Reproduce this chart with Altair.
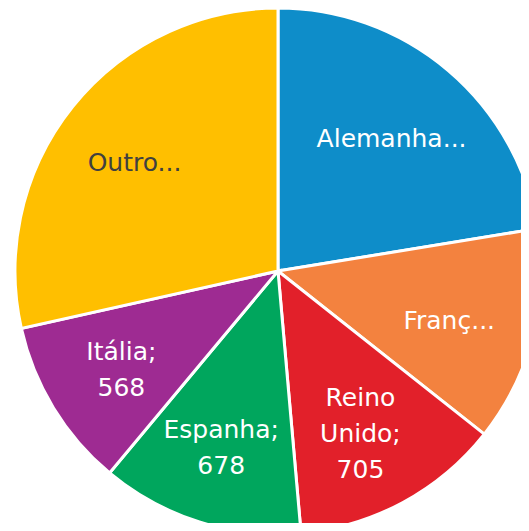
import altair as alt
import pandas as pd

categories = ["Alemanha", "França", "Reino Unido", "Espanha", "Itália", "Outro"]
values = [1220, 720, 705, 678, 568, 1551]
labels = ["Alemanha...", "Franç...", "Reino\nUnido;\n705", "Espanha;\n678", "Itália;\n568", "Outro..."]
colors = ["#0E8DC9", "#F3823F", "#E2202A", "#00A65D", "#9E2B92", "#FFBF00"]

df = pd.DataFrame({
    "cat": categories,
    "value": values,
    "label": labels,
    "ord": list(range(len(categories))),
})

LINE_H = 36

base = alt.Chart(df).transform_window(
    cum="sum(value)", sort=[alt.SortField("ord")], frame=[None, 0]
).transform_joinaggregate(
    total="sum(value)"
).transform_calculate(
    a0="2 * PI * (datum.cum - datum.value) / datum.total",
    a1="2 * PI * datum.cum / datum.total",
    amid="PI * (2 * datum.cum - datum.value) / datum.total",
    off=f"-(length(split(datum.label, '\\n')) - 1) * {LINE_H} / 2",
).encode(
    x=alt.value(270),
    y=alt.value(263),
)

arcs = base.mark_arc(outerRadius=263, stroke="white", strokeWidth=3).encode(
    theta=alt.Theta("a0:Q", scale=None),
    theta2="a1:Q",
    color=alt.Color("cat:N", scale=alt.Scale(domain=categories, range=colors), legend=None),
)

text = base.mark_text(
    radius=180, fontSize=25, font="DejaVu Sans", lineBreak="\n", lineHeight=LINE_H,
    align="center", baseline="middle", dx=-3, dy=5
).encode(
    theta=alt.Theta("amid:Q", scale=None),
    text="label:N",
    yOffset=alt.YOffset("off:Q", scale=None),
    color=alt.condition(alt.datum.cat == "Outro", alt.value("#404040"), alt.value("white")),
)

chart = (arcs + text).properties(
    width=513, height=515, padding=0, autosize=alt.AutoSizeParams(type="none")
).configure_view(stroke=None)

chart.save("out.html", embed_options={"renderer": "svg", "actions": False})
